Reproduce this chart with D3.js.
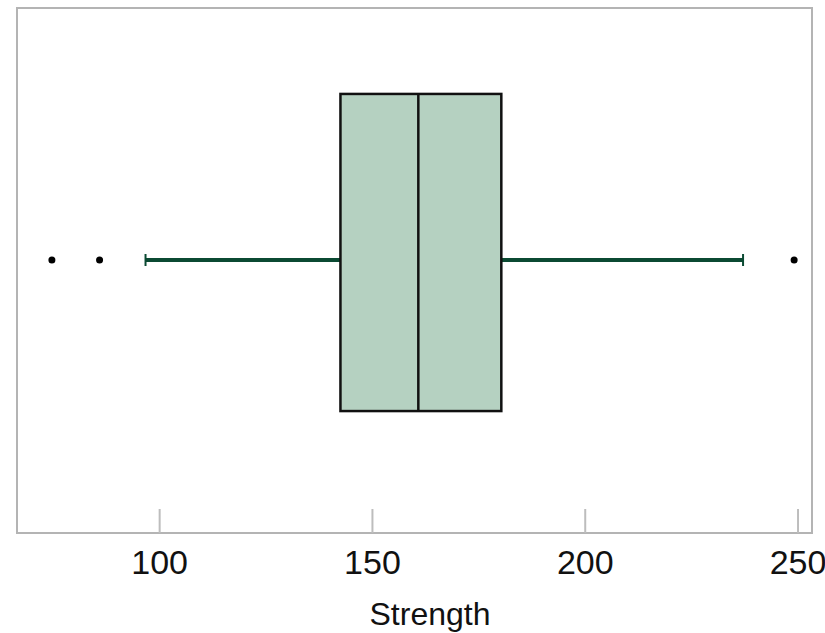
<!DOCTYPE html>
<html>
<head>
<meta charset="utf-8">
<script src="https://cdn.jsdelivr.net/npm/d3@7"></script>
<style>
  body { margin: 0; background: #fff; }
  svg { display: block; font-family: "Liberation Sans", Arial, sans-serif; }
</style>
</head>
<body>
<svg id="chart" width="825" height="633"></svg>
<script>
// summary stats
const boxStats = [{ name: 'Strength', whiskerLow: 96.8, q1: 142.6, median: 160.9, q3: 180.4, whiskerHigh: 237.2 }]
const outliers = [74.8, 86.0, 249.2]
const tickValues = [100, 150, 200, 250]

const frame = { left: 17, right: 812, top: 8, bottom: 533 }

const svg = d3.select('#chart')

const x = d3.scaleLinear()
  .domain([66.6, 253.4])
  .range([frame.left, frame.right])

// band for the single box (box sits a little above the frame centre)
const y = d3.scaleBand()
  .domain(boxStats.map(d => d.name))
  .range([frame.top, frame.bottom - 36])
  .paddingInner(0)
  .paddingOuter(0.271)
const whiskerOffset = 7.5 // whisker line sits a bit below the box centre

// frame
svg.append('rect')
  .attr('x', frame.left)
  .attr('y', frame.top)
  .attr('width', frame.right - frame.left)
  .attr('height', frame.bottom - frame.top)
  .attr('fill', 'none')
  .attr('stroke', '#b4b4b4')
  .attr('stroke-width', 2)

// axis with inward ticks
const axis = svg.append('g')
  .attr('transform', `translate(0,${frame.bottom})`)
  .call(d3.axisBottom(x).tickValues(tickValues).tickSize(-24).tickFormat(d3.format('d')))
axis.select('.domain').remove()
axis.selectAll('.tick line')
  .attr('stroke', '#bdbdbd')
  .attr('stroke-width', 2)
axis.selectAll('.tick text')
  .attr('fill', '#111')
  .attr('font-size', 34)
  .attr('font-family', '"Liberation Sans", Arial, sans-serif')
  .attr('dy', 0)
  .attr('y', 41)

svg.append('text')
  .attr('x', 430)
  .attr('y', 625)
  .attr('text-anchor', 'middle')
  .attr('font-size', 32)
  .attr('fill', '#111')
  .text('Strength')

const g = svg.append('g')

boxStats.forEach(d => {
  const top = y(d.name)
  const bw = y.bandwidth()
  const wy = top + bw / 2 + whiskerOffset
  const capH = 12

  // whiskers
  g.append('line')
    .attr('x1', x(d.whiskerLow)).attr('x2', x(d.q1))
    .attr('y1', wy).attr('y2', wy)
    .attr('stroke', '#0b4a33').attr('stroke-width', 4)
  g.append('line')
    .attr('x1', x(d.q3)).attr('x2', x(d.whiskerHigh))
    .attr('y1', wy).attr('y2', wy)
    .attr('stroke', '#0b4a33').attr('stroke-width', 4)
  ;[d.whiskerLow, d.whiskerHigh].forEach(v => {
    g.append('line')
      .attr('x1', x(v)).attr('x2', x(v))
      .attr('y1', wy - capH / 2).attr('y2', wy + capH / 2)
      .attr('stroke', '#0b4a33').attr('stroke-width', 2)
  })

  // box
  g.append('rect')
    .attr('x', x(d.q1))
    .attr('y', top)
    .attr('width', x(d.q3) - x(d.q1))
    .attr('height', bw)
    .attr('fill', '#b5d1c1')
    .attr('stroke', '#111')
    .attr('stroke-width', 2.5)
  g.append('line')
    .attr('x1', x(d.median)).attr('x2', x(d.median))
    .attr('y1', top).attr('y2', top + bw)
    .attr('stroke', '#111').attr('stroke-width', 2.5)

  g.selectAll('circle.outlier')
    .data(outliers)
    .enter().append('circle')
    .attr('class', 'outlier')
    .attr('cx', v => x(v))
    .attr('cy', wy)
    .attr('r', 3.5)
    .attr('fill', '#000')
})
</script>
</body>
</html>
